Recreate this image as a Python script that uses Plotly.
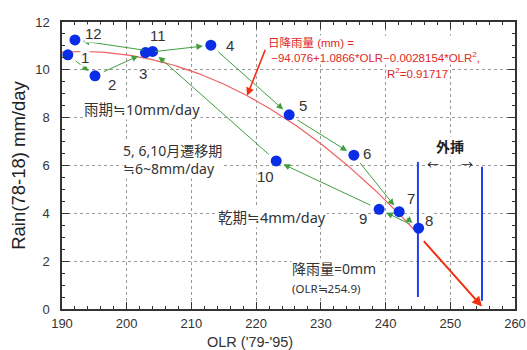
import plotly.graph_objects as go
import numpy as np

# ---- data ----
months = [1, 2, 3, 4, 5, 6, 7, 8, 9, 10, 11, 12]
olr = [190.9, 195.1, 202.9, 213.0, 225.1, 235.1, 242.1, 245.1, 239.0, 223.1, 204.0, 192.0]
rain = [10.63, 9.75, 10.72, 11.03, 8.12, 6.43, 4.07, 3.38, 4.17, 6.19, 10.77, 11.25]
month_labels = ["1", "2", "3", "4", "5", "6", "7", "8", "9", "10", "11", "12"]
label_dx = [2.7, 2.6, -0.4, 3.0, 2.1, 2.0, 1.9, 1.6, -2.5, -1.6, 0.8, 2.8]
label_dy = [-0.13, -0.38, -0.89, -0.03, 0.37, 0.06, 0.57, 0.34, -0.37, -0.63, 0.65, 0.25]

fit_coef = [-94.076, 1.0866, -0.0028154]
fit_range = [190, 245]
extrap_x = [245.7, 254.9]
extrap_y = [2.9, 0.1]
bound_x = [245.0, 254.9]
bound_y0 = [0.5, 0.35]
bound_y1 = [6.15, 5.95]

x_ticks = [190, 200, 210, 220, 230, 240, 250, 260]
y_ticks = [0, 2, 4, 6, 8, 10, 12]

FONT = "Liberation Sans, Noto Sans CJK JP, sans-serif"
JP = "Noto Sans, Noto Sans CJK JP, sans-serif"

fig = go.Figure()

# fitted curve
xf = np.linspace(fit_range[0], fit_range[1], 200)
yf = fit_coef[0] + fit_coef[1] * xf + fit_coef[2] * xf ** 2
fig.add_trace(go.Scatter(x=xf, y=yf, mode="lines",
                         line=dict(color="#f06060", width=1.2), hoverinfo="skip"))

# blue extrapolation boundaries
for bx, b0, b1 in zip(bound_x, bound_y0, bound_y1):
    fig.add_trace(go.Scatter(x=[bx, bx], y=[b0, b1], mode="lines",
                             line=dict(color="#2040f0", width=2), hoverinfo="skip"))

# monthly points
fig.add_trace(go.Scatter(x=olr, y=rain, mode="markers",
                         marker=dict(color="#0a2ee6", size=11), hoverinfo="skip"))

annotations = []
# green month-to-month arrows
n = len(months)
for i in range(n):
    j = (i + 1) % n
    annotations.append(dict(
        x=olr[j], y=rain[j], ax=olr[i], ay=rain[i], xref="x", yref="y",
        axref="x", ayref="y", text="", showarrow=True, arrowhead=2,
        arrowsize=1.3, arrowwidth=1, arrowcolor="#3f9f3f",
        standoff=8, startstandoff=8))

# red extrapolation arrow
annotations.append(dict(
    x=extrap_x[1], y=extrap_y[1], ax=extrap_x[0], ay=extrap_y[0],
    xref="x", yref="y", axref="x", ayref="y", text="", showarrow=True,
    arrowhead=2, arrowsize=1, arrowwidth=2, arrowcolor="#f03010"))

# red pointer from equation to curve
px = 218.6
py = fit_coef[0] + fit_coef[1] * px + fit_coef[2] * px ** 2
annotations.append(dict(
    x=px, y=py, ax=221.5, ay=10.9, xref="x", yref="y", axref="x", ayref="y",
    text="", showarrow=True, arrowhead=2, arrowsize=1, arrowwidth=1.6,
    arrowcolor="#f03010"))

# month labels
for m, x, y, dx, dy in zip(month_labels, olr, rain, label_dx, label_dy):
    annotations.append(dict(x=x + dx, y=y + dy, xref="x", yref="y", text=m,
                            showarrow=False, bgcolor="white", borderpad=0,
                            font=dict(family=FONT, size=15, color="#333")))

def txt(x, y, t, size=14, color="#333", xanchor="center", yanchor="middle",
        bg="white", family=JP, align="left"):
    annotations.append(dict(x=x, y=y, xref="x", yref="y", text=t, showarrow=False,
                            xanchor=xanchor, yanchor=yanchor, align=align,
                            bgcolor=bg, borderpad=0,
                            font=dict(family=family, size=size, color=color)))

txt(202.3, 8.37, "雨期≒10mm/day", 14.5)
txt(199.2, 6.27, "5, 6,10月遷移期<br>≒6~8mm/day", 14, xanchor="left")
txt(222.4, 3.85, "乾期≒4mm/day", 14.5)
txt(225.4, 1.26, "降雨量=0mm", 14, xanchor="left", yanchor="bottom")
txt(225.4, 1.22, "(OLR≒254.9)", 11.5, xanchor="left", yanchor="top")
txt(250.0, 6.78, "<b>外挿</b>", 14, "#222")
txt(247.3, 5.98, "←", 12, "#222", bg="rgba(0,0,0,0)")
txt(252.6, 5.98, "→", 12, "#222", bg="rgba(0,0,0,0)")
txt(221.6, 10.22, "日降雨量 (mm) =<br> −94.076+1.0866*OLR−0.0028154*OLR<sup>2</sup>,",
    11.5, "#e02828", xanchor="left", yanchor="bottom", family=FONT)
txt(249.8, 10.2, "R<sup>2</sup>=0.91717", 11.5, "#e02828", xanchor="right",
    yanchor="top", family=FONT)

# x-axis title (off-centre in the reference)
annotations.append(dict(x=0.415, y=-0.116, xref="paper", yref="paper",
                        text="OLR ('79-'95)", showarrow=False, yanchor="middle",
                        font=dict(family=FONT, size=14.5, color="#333")))

axis_common = dict(
    showline=True, linecolor="#333", linewidth=1.5, mirror="allticks",
    ticks="inside", ticklen=7, tickwidth=1, tickcolor="#333",
    showgrid=True, gridcolor="#999", griddash="dot", gridwidth=1,
    zeroline=False, automargin=False,
    tickfont=dict(family=FONT, size=13, color="#333"),
)

fig.update_layout(
    width=527, height=350,
    margin=dict(l=62, r=12, t=22, b=41),
    paper_bgcolor="white", plot_bgcolor="white",
    showlegend=False,
    annotations=annotations,
    xaxis=dict(range=[190, 260], tickvals=x_ticks,
               minor=dict(dtick=2, ticks="inside", ticklen=3, tickcolor="#333", showgrid=False),
               ticklabelstandoff=2,
               **axis_common),
    yaxis=dict(range=[0, 12], tickvals=y_ticks,
               minor=dict(dtick=0.5, ticks="inside", ticklen=3, tickcolor="#333", showgrid=False),
               title=dict(text="Rain(78-18) mm/day", font=dict(family=FONT, size=18.5, color="#222"),
                          standoff=5),
               ticklabelstandoff=8,
               **axis_common),
)

fig.write_html("out.html", config={"displayModeBar": False},
               post_script="document.body.style.margin='0';document.body.style.overflow='hidden';")
